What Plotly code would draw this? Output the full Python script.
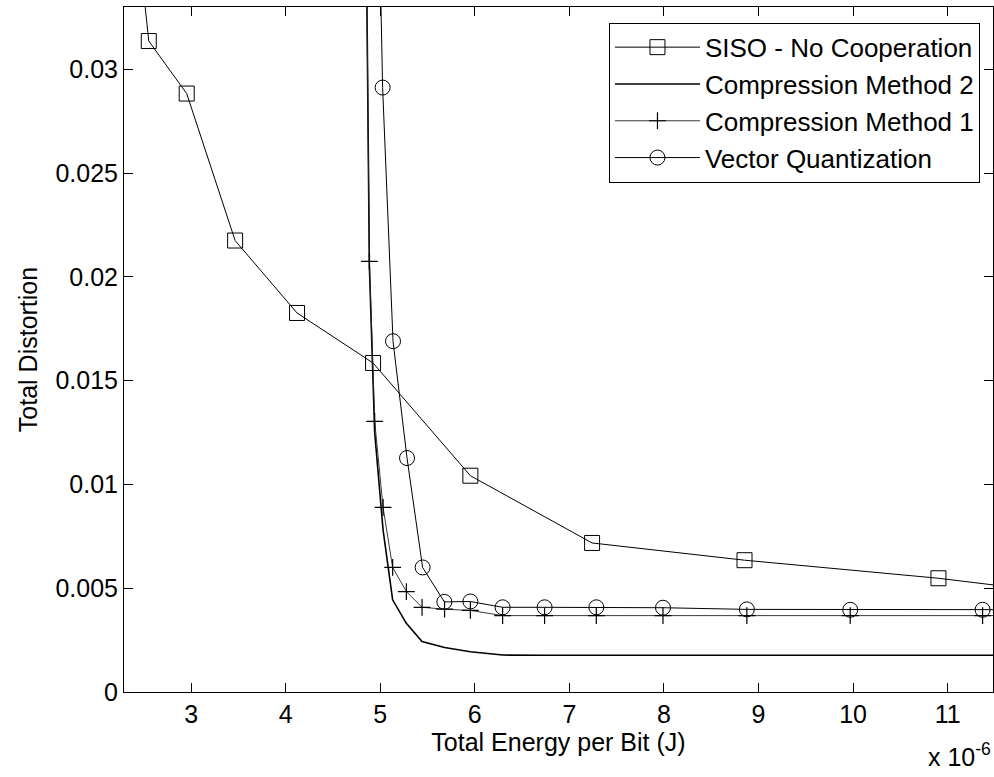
import plotly.graph_objects as go

# Energy values in units of 1e-6 J
siso_x = [2.24, 2.552, 2.953, 3.465, 4.12, 4.924, 5.953, 7.24, 8.852, 10.903, 13.5]
siso_y = [0.0448, 0.03136, 0.02883, 0.02175, 0.01826, 0.01585, 0.01042, 0.00718, 0.00635, 0.00548, 0.00404]

m2_x = [4.845, 4.885, 4.941, 5.03, 5.131, 5.276, 5.442, 5.68, 5.953, 6.294, 6.738, 7.285, 7.99, 8.877, 9.97, 11.37, 13.0]
m2_y = [0.040, 0.0205, 0.0125, 0.0078, 0.00444, 0.00331, 0.00243, 0.00214, 0.00194, 0.00178, 0.00177, 0.00177, 0.00177, 0.00177, 0.00177, 0.00177, 0.00177]

m1_x = [4.845, 4.885, 4.941, 5.03, 5.131, 5.276, 5.442, 5.68, 5.953, 6.294, 6.738, 7.285, 7.99, 8.877, 9.97, 11.37, 13.0]
m1_y = [0.040, 0.02075, 0.01304, 0.00889, 0.0060, 0.00484, 0.00408, 0.00399, 0.00393, 0.00368, 0.00368, 0.00368, 0.00368, 0.00368, 0.00368, 0.00368, 0.00368]

vq_x = [4.941, 5.025, 5.135, 5.283, 5.448, 5.678, 5.953, 6.294, 6.738, 7.285, 7.99, 8.877, 9.97, 11.37, 13.0]
vq_y = [0.048, 0.02912, 0.0169, 0.01127, 0.0060, 0.00434, 0.00436, 0.00408, 0.00408, 0.00408, 0.00406, 0.00398, 0.00396, 0.00396, 0.00396]

x_ticks = [3, 4, 5, 6, 7, 8, 9, 10, 11]
y_ticks = [0, 0.005, 0.01, 0.015, 0.02, 0.025, 0.03]
y_tick_labels = ["0", "0.005", "0.01", "0.015", "0.02", "0.025", "0.03"]

FONT = "Liberation Sans, Arial, sans-serif"

fig = go.Figure()
fig.add_trace(go.Scatter(
    x=siso_x, y=siso_y, name="SISO - No Cooperation", mode="lines+markers",
    line=dict(color="black", width=1),
    marker=dict(symbol="square-open", size=15, color="black", line=dict(width=1, color="black")),
))
fig.add_trace(go.Scatter(
    x=m2_x, y=m2_y, name="Compression Method 2", mode="lines",
    line=dict(color="black", width=1.6),
))
fig.add_trace(go.Scatter(
    x=m1_x, y=m1_y, name="Compression Method 1", mode="lines+markers",
    line=dict(color="#222222", width=0.9),
    marker=dict(symbol="cross-thin", size=12, color="black", line=dict(width=1.2, color="black")),
))
fig.add_trace(go.Scatter(
    x=vq_x, y=vq_y, name="Vector Quantization", mode="lines+markers",
    line=dict(color="black", width=1),
    marker=dict(symbol="circle-open", size=15, color="black", line=dict(width=1, color="black")),
))

axis_common = dict(
    showgrid=False, zeroline=False, showline=True, linecolor="black", linewidth=1,
    mirror="ticks", ticks="inside", ticklen=9, tickwidth=1, tickcolor="black",
    tickfont=dict(family=FONT, size=25, color="black"), automargin=False,
)

fig.update_xaxes(
    range=[2.29, 11.48], tickvals=x_ticks, ticktext=[str(v) for v in x_ticks],
    title=dict(text="Total Energy per Bit (J)", font=dict(family=FONT, size=25, color="black"), standoff=4),
    **axis_common,
)
fig.update_yaxes(
    range=[0, 0.033], tickvals=y_ticks, ticktext=y_tick_labels,
    title=dict(text="Total Distortion", font=dict(family=FONT, size=25, color="black"), standoff=10),
    **axis_common,
)

fig.add_annotation(
    x=1.0, y=-0.092, xref="paper", yref="paper", xanchor="right", yanchor="middle",
    text="x 10<sup>-6</sup>", showarrow=False,
    font=dict(family=FONT, size=25, color="black"),
)

fig.update_layout(
    width=994, height=777,
    margin=dict(l=124, r=1, t=7, b=85),
    paper_bgcolor="white", plot_bgcolor="white",
    font=dict(family=FONT, size=25, color="black"),
    showlegend=True,
    legend=dict(
        x=0.985, y=0.977, xanchor="right", yanchor="top",
        bgcolor="white", bordercolor="black", borderwidth=1,
        font=dict(family=FONT, size=26, color="black"),
        itemwidth=85,
    ),
)

fig.write_html(
    "out.html",
    config={"displayModeBar": False},
    post_script="document.body.style.margin='0';document.body.style.overflow='hidden';",
)
